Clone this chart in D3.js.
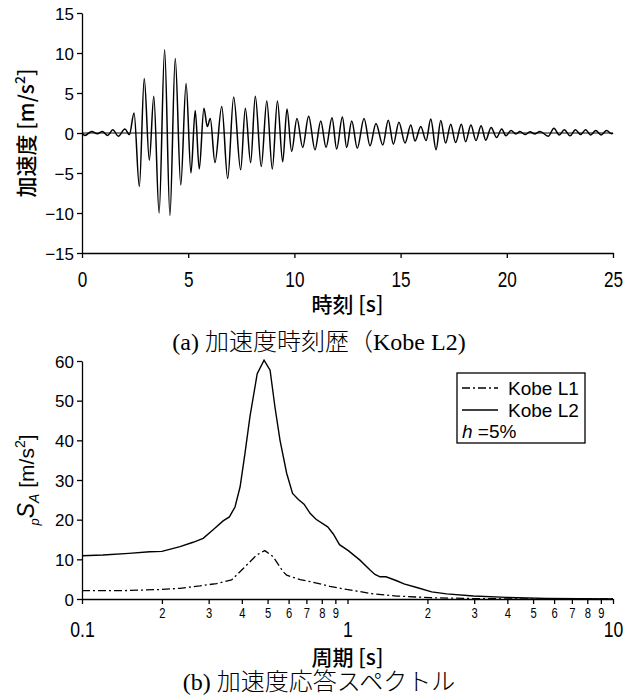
<!doctype html>
<html>
<head>
<meta charset="UTF-8">
<script src="https://cdnjs.cloudflare.com/ajax/libs/d3/7.8.5/d3.min.js"></script>
<style>
  body { margin: 0; background: #fff; }
  svg { display: block; }
  .axis path, .axis line { stroke: #000; stroke-width: 1.3; }
  .ytick text { font-family: "Liberation Sans", Arial, sans-serif; font-size: 17px; }
  .narrow { font-family: "Liberation Sans", Arial, sans-serif; }
  .title { font-family: "Noto Sans CJK JP", "Liberation Sans", sans-serif; font-size: 21px; font-weight: 500; }
  .caption { font-family: "Liberation Serif", "Noto Sans CJK JP", serif; font-size: 24px; font-weight: 300; }
  .legend text { font-family: "Liberation Sans", Arial, sans-serif; font-size: 19px; }
</style>
</head>
<body>
<svg id="chart" width="638" height="700"></svg>
<script>
// (a) acceleration time history, Kobe L2 - peaks and troughs
const accTime = [0, 0.14, 0.46, 0.72, 0.96, 1.21, 1.45, 1.71, 2.02, 2.23, 2.45, 2.70, 2.93, 3.17, 3.38,
  3.63, 3.89, 4.14, 4.39, 4.65, 4.90, 5.13, 5.33, 5.52, 5.74, 5.90, 6.04, 6.26, 6.58, 6.86, 7.14,
  7.47, 7.69, 7.94, 8.16, 8.44, 8.70, 8.96, 9.20, 9.45, 9.65, 9.87, 10.12, 10.39, 10.67, 10.97,
  11.24, 11.49, 11.77, 11.99, 12.26, 12.46, 12.70, 12.96, 13.28, 13.56, 13.84, 14.16, 14.42, 14.66,
  14.92, 15.21, 15.48, 15.68, 15.95, 16.20, 16.42, 16.67, 16.89, 17.12, 17.36, 17.59, 17.86, 18.06,
  18.31, 18.55, 18.79, 19.01, 19.26, 19.52, 19.76, 19.96, 20.20, 20.43, 20.62, 20.86, 21.09, 21.33,
  21.56, 21.95, 22.22, 22.47, 22.71, 22.98, 23.23, 23.48, 23.71, 23.95, 24.19, 24.44, 24.70, 24.94, 25.0];
const accValue = [0, -0.3, 0.2, -0.1, 0.2, -0.3, 0.4, -0.4, 0.5, -0.2, 2.5, -6.7, 6.8, -3.4, 4.6,
  -10.0, 10.4, -10.3, 9.3, -6.5, 6.2, -5.0, 2.8, -4.5, 3.1, 0.8, 1.8, -3.7, 3.3, -5.7, 4.5,
  -4.6, 3.1, -3.7, 4.6, -4.2, 4.0, -4.5, 4.0, -3.6, 3.0, -2.3, 1.8, -1.8, 2.1, -2.1,
  1.5, -1.8, 1.9, -2.0, 2.0, -1.8, 1.5, -1.9, 1.8, -1.6, 1.2, -1.5, 1.6, -1.4,
  1.35, -1.25, 1.0, -1.0, 0.8, -0.95, 1.75, -2.1, 1.55, -1.25, 1.1, -1.2, 1.1, -1.1,
  1.0, -0.95, 0.9, -0.9, 0.7, -0.55, 0.5, -0.35, 0.3, -0.12, 0.2, -0.2, 0.15, -0.12,
  0.2, -0.4, 0.6, -0.25, 0.4, -0.35, 0.4, -0.2, 0.4, -0.25, 0.3, -0.25, 0.3, -0.1, 0];
const timeTicks = [0, 5, 10, 15, 20, 25];
const accTicks = [-15, -10, -5, 0, 5, 10, 15];

// (b) acceleration response spectra, h = 5%
const periodL2 = [0.1, 0.12, 0.15, 0.18, 0.2, 0.234, 0.262, 0.286, 0.311, 0.34, 0.359, 0.377, 0.394,
  0.411, 0.429, 0.457, 0.485, 0.511, 0.533, 0.557, 0.59, 0.621, 0.653, 0.686, 0.723, 0.761, 0.842,
  0.884, 0.933, 1.007, 1.114, 1.216, 1.269, 1.326, 1.396, 1.532, 1.632, 1.823, 2.075, 2.363, 2.978,
  3.978, 5.627, 7.51, 10];
const saL2 = [10.9, 11.1, 11.5, 11.9, 12.0, 13.2, 14.3, 15.3, 17.4, 19.7, 20.7, 23.2, 28.3,
  36.7, 45.9, 56.8, 60.2, 57.7, 48.4, 40.0, 31.7, 26.6, 25.1, 23.9, 21.6, 20.1, 18.2,
  16.4, 13.7, 12.2, 9.8, 7.3, 6.2, 5.6, 5.6, 4.6, 3.8, 2.9, 1.8, 1.3, 0.76,
  0.4, 0.15, 0.05, 0.02];
const periodL1 = [0.1, 0.14, 0.2, 0.234, 0.278, 0.321, 0.366, 0.405, 0.455, 0.488, 0.524, 0.572, 0.59,
  0.663, 0.744, 0.859, 0.993, 1.251, 1.532, 2.045, 3.155, 5.0, 10];
const saL1 = [2.1, 2.1, 2.4, 2.7, 3.3, 3.9, 4.8, 7.7, 11.1, 12.2, 10.7, 6.9, 6.0,
  4.9, 4.2, 3.2, 2.4, 1.3, 0.75, 0.33, 0.08, 0.02, 0];
const periodMajor = [0.1, 1, 10];
const periodMinor = [0.2, 0.3, 0.4, 0.5, 0.6, 0.7, 0.8, 0.9, 2, 3, 4, 5, 6, 7, 8, 9];
const saTicks = [0, 10, 20, 30, 40, 50, 60];
const seriesNames = ["Kobe L1", "Kobe L2"];

const svg = d3.select("#chart");
const left = 82, right = 613;
const fmt = d => d < 0 ? "\u2212" + (-d) : String(d);

// ---------- (a) ----------
const xa = d3.scaleLinear().domain([0, 25]).range([left, right]);
const ya = d3.scaleLinear().domain([-15, 15]).range([253, 13]);

const gaX = svg.append("g").attr("class", "axis")
  .attr("transform", "translate(0,253)")
  .call(d3.axisBottom(xa).tickValues(timeTicks).tickSize(5).tickSizeOuter(0).tickFormat(""));
gaX.selectAll(".tick").append("text").attr("class", "narrow")
  .attr("transform", "scale(0.78,1)")
  .attr("y", 34).attr("text-anchor", "middle").attr("font-size", 22).attr("fill", "#000")
  .text(d => d);

svg.append("g").attr("class", "axis ytick")
  .attr("transform", "translate(" + left + ",0)")
  .call(d3.axisLeft(ya).tickValues(accTicks).tickSize(5).tickSizeOuter(0).tickPadding(3).tickFormat(fmt))
  .selectAll("text").attr("dy", "0.36em");

svg.append("line").attr("x1", xa(0)).attr("x2", xa(25)).attr("y1", ya(0)).attr("y2", ya(0))
  .attr("stroke", "#000").attr("stroke-width", 1.2);

const accData = accTime.map((t, i) => [t, accValue[i]]);
svg.append("path").datum(accData)
  .attr("fill", "none").attr("stroke", "#000").attr("stroke-width", 1.5)
  .attr("d", d3.line().x(d => xa(d[0])).y(d => ya(d[1])).curve(d3.curveMonotoneX));

svg.append("text").attr("class", "title").attr("x", (left + right) / 2).attr("y", 312)
  .attr("text-anchor", "middle").text("時刻 [s]");

const ylA = svg.append("text").attr("class", "title")
  .attr("transform", "translate(34," + ya(0) + ") rotate(-90)").attr("text-anchor", "middle");
ylA.append("tspan").text("加速度 [m/s");
ylA.append("tspan").attr("font-size", 14).attr("dy", -9).text("2");
ylA.append("tspan").attr("dy", 9).text("]");

svg.append("text").attr("class", "caption").attr("x", 319).attr("y", 350)
  .attr("text-anchor", "middle").text("(a) 加速度時刻歴（Kobe L2)");

// ---------- (b) ----------
const xb = d3.scaleLog().domain([0.1, 10]).range([left, right]);
const yb = d3.scaleLinear().domain([0, 60]).range([599, 361]);

const gbX = svg.append("g").attr("class", "axis")
  .attr("transform", "translate(0,599)")
  .call(d3.axisBottom(xb).tickValues(periodMajor.concat(periodMinor)).tickSize(5).tickSizeOuter(0).tickFormat(""));
gbX.selectAll(".tick").filter(d => periodMajor.includes(d)).append("text").attr("class", "narrow")
  .attr("transform", "scale(0.8,1)")
  .attr("y", 38).attr("text-anchor", "middle").attr("font-size", 22).attr("fill", "#000")
  .text(d => d);
gbX.selectAll(".tick").filter(d => periodMinor.includes(d)).append("text").attr("class", "narrow")
  .attr("transform", "scale(0.8,1)")
  .attr("y", 19).attr("text-anchor", "middle").attr("font-size", 14).attr("fill", "#000")
  .text(d => d < 1 ? Math.round(d * 10) : d);

svg.append("g").attr("class", "axis ytick")
  .attr("transform", "translate(" + left + ",0)")
  .call(d3.axisLeft(yb).tickValues(saTicks).tickSize(5).tickSizeOuter(0).tickPadding(3))
  .selectAll("text").attr("dy", "0.36em");

const lineB = d3.line().x(d => xb(d[0])).y(d => yb(d[1]));
svg.append("path").datum(periodL1.map((p, i) => [p, saL1[i]]))
  .attr("fill", "none").attr("stroke", "#000").attr("stroke-width", 1.3)
  .attr("stroke-dasharray", "8,3,2,3").attr("d", lineB);
svg.append("path").datum(periodL2.map((p, i) => [p, saL2[i]]))
  .attr("fill", "none").attr("stroke", "#000").attr("stroke-width", 1.4).attr("d", lineB);

svg.append("text").attr("class", "title").attr("x", (left + right) / 2).attr("y", 665)
  .attr("text-anchor", "middle").text("周期 [s]");

const ylB = svg.append("text").attr("class", "title")
  .attr("transform", "translate(34,480) rotate(-90)").attr("text-anchor", "middle")
  .style("font-family", "'Liberation Sans', Arial, sans-serif").style("font-weight", "normal");
ylB.append("tspan").attr("font-style", "italic").attr("font-size", 13).attr("dy", 5).text("p");
ylB.append("tspan").attr("font-style", "italic").attr("font-size", 23).attr("dy", -5).text("S");
ylB.append("tspan").attr("font-style", "italic").attr("font-size", 14).attr("dy", 5).text("A");
ylB.append("tspan").attr("dy", -5).text(" [m/s");
ylB.append("tspan").attr("font-size", 14).attr("dy", -9).text("2");
ylB.append("tspan").attr("dy", 9).text("]");

svg.append("text").attr("class", "caption").attr("x", 319).attr("y", 690)
  .attr("text-anchor", "middle").text("(b) 加速度応答スペクトル");

// legend
const lg = svg.append("g").attr("class", "legend");
lg.append("rect").attr("x", 457).attr("y", 373).attr("width", 128).attr("height", 70)
  .attr("fill", "#fff").attr("stroke", "#000").attr("stroke-width", 1.3);
seriesNames.forEach((name, i) => {
  const y = 388 + i * 22;
  lg.append("line").attr("x1", 462).attr("x2", 498).attr("y1", y).attr("y2", y)
    .attr("stroke", "#000").attr("stroke-width", 1.3)
    .attr("stroke-dasharray", i === 0 ? "8,3,2,3" : null);
  lg.append("text").attr("x", 508).attr("y", y + 7).text(name);
});
const hTxt = lg.append("text").attr("x", 462).attr("y", 438);
hTxt.append("tspan").attr("font-style", "italic").text("h");
hTxt.append("tspan").text(" =5%");
</script>
</body>
</html>
